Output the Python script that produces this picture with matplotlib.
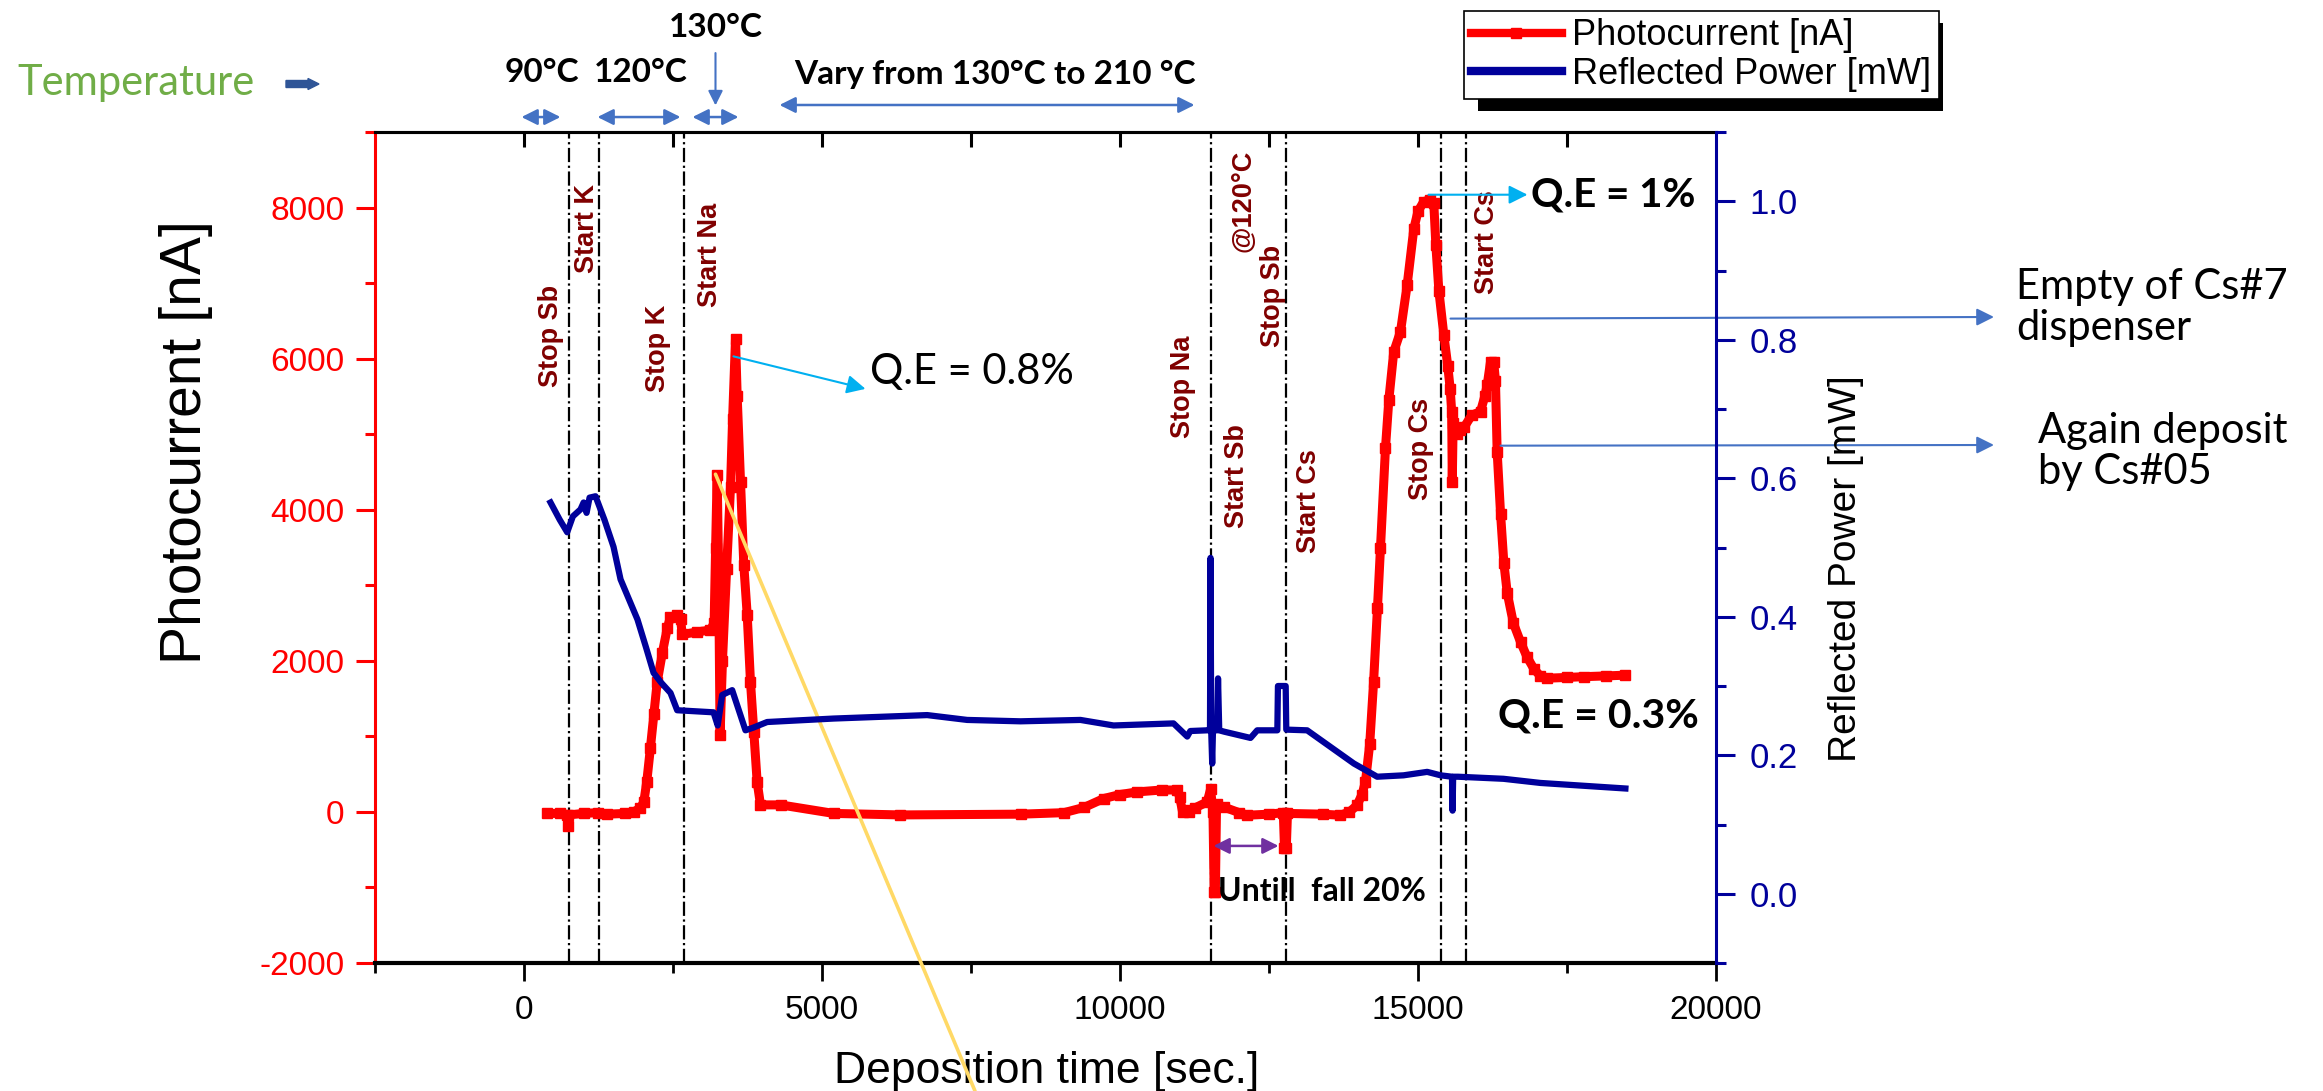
import matplotlib
matplotlib.use("Agg")
import matplotlib.pyplot as plt
from matplotlib.lines import Line2D
from matplotlib.patches import Rectangle
from matplotlib.transforms import IdentityTransform
from matplotlib.ticker import MultipleLocator
import numpy as np

plt.rcParams['font.family'] = ['Liberation Sans', 'DejaVu Sans']

# ---------------- data ----------------
time_pc = [390, 600, 725, 735, 745, 1000, 1240, 1400, 1700, 1840, 1950, 2010, 2060,
           2120, 2180, 2235, 2320, 2403, 2458, 2560, 2626, 2654, 2900, 3129, 3190,
           3215, 3241, 3265, 3290, 3330, 3400, 3465, 3500, 3549, 3577, 3633, 3688,
           3745, 3800, 3856, 3912, 3968, 4304, 5195, 6317, 8331, 9060, 9400, 9727,
           10000, 10288, 10700, 10959, 11000, 11050, 11110, 11160, 11250, 11463,
           11520, 11560, 11580, 11600, 11620, 11737, 12000, 12134, 12500, 12740,
           12760, 12790, 12810, 13400, 13698, 13850, 13977, 14060, 14118, 14190,
           14255, 14320, 14370, 14454, 14510, 14593, 14706, 14818, 14930, 15000,
           15097, 15200, 15265, 15300, 15350, 15433, 15500, 15540, 15565, 15575,
           15590, 15650, 15713, 15780, 15900, 16049, 16120, 16161, 16217, 16270,
           16300, 16328, 16385, 16440, 16497, 16600, 16720, 16830, 16944, 17050,
           17168, 17500, 17782, 18150, 18480]
photocurrent = [-20, -20, -40, -180, -40, -20, -10, -30, -20, 0, 50, 130, 400,
                840, 1300, 1720, 2100, 2430, 2580, 2600, 2560, 2350, 2380, 2410, 2500,
                3500, 4460, 3200, 1020, 2000, 3222, 4300, 5200, 6265, 5500, 4371, 3271,
                2609, 1722, 1060, 397, 93, 93, -20, -40, -30, -10, 60, 177,
                230, 265, 290, 290, 200, 0, 20, 0, 50, 132,
                300, 0, -1060, -1060, 100, 66, -10, -44, -30, -10,
                -480, -480, -20, -30, -44, 0, 88, 230, 397, 900,
                1722, 2700, 3488, 4812, 5450, 6090, 6357, 6975, 7720, 7950,
                8080, 8100, 8057, 7500, 6900, 6316, 5900, 5600, 5300, 4370,
                5150, 5000, 5050, 5100, 5250, 5300, 5500, 5650, 5960, 5960,
                5700, 4770, 3950, 3300, 2900, 2500, 2250, 2050, 1894, 1800,
                1770, 1780, 1790, 1800, 1810]

time_rp = [445, 600, 725, 820, 948, 1000, 1050, 1100, 1200, 1350, 1502, 1620, 1904,
           2050, 2174, 2300, 2458, 2570, 3180, 3250, 3325, 3493, 3716, 3850, 4080,
           5195, 6765, 7436, 8331, 9337, 9892, 10898, 11128, 11180, 11463, 11510,
           11519, 11530, 11547, 11560, 11630, 11645, 11665, 11750, 12190, 12302,
           12640, 12650, 12780, 12790, 13140, 13925, 14315, 14757, 15154, 15380,
           15570, 15580, 15590, 15670, 16434, 17055, 18480]
reflected_power = [0.565, 0.540, 0.522, 0.545, 0.555, 0.565, 0.550, 0.572, 0.574,
                   0.540, 0.501, 0.454, 0.396, 0.355, 0.319, 0.305, 0.290, 0.265,
                   0.262, 0.243, 0.287, 0.294, 0.236, 0.240, 0.248, 0.253, 0.258,
                   0.251, 0.249, 0.251, 0.243, 0.246, 0.227, 0.235, 0.236, 0.236,
                   0.485, 0.236, 0.188, 0.236, 0.236, 0.311, 0.236, 0.234, 0.225,
                   0.236, 0.236, 0.300, 0.300, 0.237, 0.236, 0.188, 0.169, 0.171,
                   0.176, 0.171, 0.169, 0.120, 0.169, 0.169, 0.166, 0.160, 0.152]

event_times = [750, 1250, 2690, 11535, 12790, 15380, 15810]

step_labels = ["Stop Sb", "Start K", "Stop K", "Start Na", "Stop Na", "Start Sb",
               "@120°C", "Stop Sb", "Start Cs", "Stop Cs", "Start Cs"]
# (x centre, bottom y) in data units
step_pos = [(445, 5630), (1065, 7140), (2240, 5560), (3121, 6680), (11050, 4950),
            (11970, 3760), (12075, 7410), (12560, 6160), (13163, 3430),
            (15042, 4130), (16150, 6850)]

temp_labels = ["90°C", "120°C", "130°C", "Vary from 130°C to 210 °C"]

RED = "#FF0000"
BLUE = "#00009B"
DARKRED = "#800000"
ARROW = "#4472C4"
CYAN = "#00B0F0"

fig = plt.figure(figsize=(23.23, 10.91), dpi=100)
ax = fig.add_axes([375 / 2323, 1 - 963 / 1091, 1341 / 2323, 831 / 1091])
ax2 = ax.twinx()

ax.plot(time_pc, photocurrent, color=RED, lw=6.5, marker="s", ms=7.5, zorder=3)
ax2.plot(time_rp, reflected_power, color=BLUE, lw=4.5, zorder=3)

for t in event_times:
    ax.axvline(t, color="black", lw=1.6, ls="-.", zorder=2)

ax.set_xlim(-2500, 20000)
ax.set_ylim(-2000, 9000)
ax2.set_ylim(-0.1, 1.1)

# axes styling
ax.spines["left"].set_color(RED)
ax.spines["left"].set_linewidth(2.2)
ax.spines["right"].set_visible(False)
ax.spines["bottom"].set_linewidth(3)
ax.spines["top"].set_linewidth(2.2)
ax2.spines["left"].set_visible(False)
ax2.spines["right"].set_color(BLUE)
ax2.spines["right"].set_linewidth(2.2)
ax2.spines["top"].set_visible(False)
ax2.spines["bottom"].set_visible(False)

ax.xaxis.set_major_locator(MultipleLocator(5000))
ax.xaxis.set_minor_locator(MultipleLocator(2500))
ax.yaxis.set_major_locator(MultipleLocator(2000))
ax.yaxis.set_minor_locator(MultipleLocator(1000))
ax2.yaxis.set_major_locator(MultipleLocator(0.2))
ax2.yaxis.set_minor_locator(MultipleLocator(0.1))
ax.set_xticks(np.arange(0, 20001, 5000))

ax.tick_params(axis="x", which="major", length=13, width=2, pad=10, labelsize=24)
ax.tick_params(axis="x", which="minor", length=7, width=2)
ax.tick_params(axis="y", which="major", colors=RED, length=14, width=2.2, pad=8,
               labelsize=24)
ax.tick_params(axis="y", which="minor", colors=RED, length=7, width=2.2)
ax2.tick_params(axis="y", which="major", colors=BLUE, length=14, width=2.2, pad=10,
                labelsize=25)
ax2.tick_params(axis="y", which="minor", colors=BLUE, length=7, width=2.2)
ax2.yaxis.set_major_formatter(matplotlib.ticker.FormatStrFormatter("%.1f"))
ax.yaxis.set_major_formatter(matplotlib.ticker.FormatStrFormatter("%d"))

top = ax.secondary_xaxis("top")
top.set_xticks(np.arange(0, 17501, 2500))
top.tick_params(direction="in", length=11, width=2.2, labeltop=False)
top.spines["top"].set_linewidth(2.2)

ax.set_xlabel("Deposition time [sec.]", fontsize=32)
ax.xaxis.label.set_va("center")
ax.xaxis.set_label_coords(0.501, -0.13)
ax.set_ylabel("Photocurrent [nA]", fontsize=41)
ax.yaxis.label.set_va("center")
ax.yaxis.set_label_coords(-0.141, 0.627)
ax2.set_ylabel("Reflected Power [mW]", fontsize=28)
ax2.yaxis.label.set_va("center")
ax2.yaxis.set_label_coords(1.097, 0.474)

# step labels
for lab, (x, y) in zip(step_labels, step_pos):
    ax.text(x, y, lab, rotation=90, ha="center", va="bottom", color=DARKRED,
            fontsize=19.5, fontweight="bold", zorder=4)

# temperature bar above the plot
calibri = ["Lato", "DejaVu Sans"]
fig.text(17 / 2323, 1 - 95 / 1091, "Temperature", color="#70AD47", fontsize=30,
         family=calibri, va="baseline", ha="left")
fig.add_artist(matplotlib.patches.FancyArrow(286 / 2323, 1 - 84 / 1091, 22 / 2323, 0,
                                             width=7 / 1091, head_width=11 / 1091,
                                             head_length=11 / 2323,
                                             length_includes_head=False,
                                             color="#2F5597",
                                             transform=fig.transFigure))

tx = ("data", "axes fraction")
spans = [(-42, 612, 1.018), (1233, 2626, 1.018), (2827, 3599, 1.018),
         (4287, 11250, 1.0325)]
for x0, x1, yy in spans:
    ax.annotate("", xy=(x1, yy), xytext=(x0, yy), xycoords=tx, textcoords=tx,
                arrowprops=dict(arrowstyle="<|-|>", color=ARROW, lw=1.8,
                                mutation_scale=24, shrinkA=0, shrinkB=0),
                annotation_clip=False)
ax.annotate("", xy=(3213, 1.032), xytext=(3213, 1.095), xycoords=tx, textcoords=tx,
            arrowprops=dict(arrowstyle="-|>", color=ARROW, lw=1.5, mutation_scale=22,
                            shrinkA=0, shrinkB=0), annotation_clip=False)
temp_pos = [(294, 1.071), (1955, 1.071), (3213, 1.126), (7911, 1.069)]
for lab, (x, yy) in zip(temp_labels, temp_pos):
    ax.text(x, yy, lab, transform=ax.get_xaxis_transform(), ha="center", va="center",
            fontsize=24, fontweight="bold", family=calibri)

# Q.E notes
ax.annotate("", xy=(5730, 5600), xytext=(3515, 6030),
            arrowprops=dict(arrowstyle="-|>", color=CYAN, lw=1.5, mutation_scale=28,
                            shrinkA=0, shrinkB=0), zorder=5)
ax.text(5800, 5820, "Q.E = 0.8%", fontsize=30, family=calibri, ha="left", va="center")
ax.annotate("", xy=(16837, 8170), xytext=(15176, 8170),
            arrowprops=dict(arrowstyle="-|>", color=CYAN, lw=1.5, mutation_scale=28,
                            shrinkA=0, shrinkB=0), zorder=5)
ax.text(16900, 8170, "Q.E = 1%", fontsize=29, fontweight="bold", family=calibri,
        ha="left", va="center", zorder=6)
ax.text(16350, 1270, "Q.E = 0.3%", fontsize=29.5, fontweight="bold", family=calibri,
        ha="left", va="center", zorder=6)

ax.annotate("", xy=(12660, -450), xytext=(11569, -450),
            arrowprops=dict(arrowstyle="<|-|>", color="#7030A0", lw=1.8,
                            mutation_scale=24, shrinkA=0, shrinkB=0), zorder=5)
ax.text(11640, -1050, "Untill  fall 20%", fontsize=23, fontweight="bold",
        family=calibri, ha="left", va="center", zorder=6)

# yellow guide line running off the bottom
ax.annotate("", xy=(3213, 4470), xytext=(975 / 2323, 0), textcoords="figure fraction",
            arrowprops=dict(arrowstyle="-", color="#FFD966", lw=2.6, shrinkA=0,
                            shrinkB=0), annotation_clip=False, zorder=5)

# notes on the right
ax.annotate("", xy=(1994 / 2323, 1 - 317 / 1091), xytext=(15545, 6530),
            xycoords="figure fraction", textcoords="data",
            arrowprops=dict(arrowstyle="-|>", color=ARROW, lw=1.5, mutation_scale=26,
                            shrinkA=0, shrinkB=0), annotation_clip=False, zorder=5)
ax.annotate("", xy=(1994 / 2323, 1 - 445 / 1091), xytext=(16384, 4848),
            xycoords="figure fraction", textcoords="data",
            arrowprops=dict(arrowstyle="-|>", color=ARROW, lw=1.5, mutation_scale=26,
                            shrinkA=0, shrinkB=0), annotation_clip=False, zorder=5)
fig.text(2016 / 2323, 1 - 268 / 1091, "Empty of Cs#7\ndispenser", fontsize=30,
         family=calibri, ha="left", va="top", linespacing=1.1)
fig.text(2038 / 2323, 1 - 412 / 1091, "Again deposit\nby Cs#05", fontsize=30,
         family=calibri, ha="left", va="top", linespacing=1.1)

# legend with a solid black drop shadow
handles = [Line2D([], [], color=RED, lw=6, marker="s", ms=7),
           Line2D([], [], color=BLUE, lw=6)]
leg = ax2.legend(handles, ["Photocurrent [nA]", "Reflected Power [mW]"],
                 loc="upper left", bbox_to_anchor=(1464 / 2323, 1 - 11 / 1091),
                 bbox_transform=fig.transFigure, fontsize=26, frameon=True,
                 fancybox=False, edgecolor="black", framealpha=1, handlelength=2.5,
                 borderpad=0.2, labelspacing=0.1, handletextpad=0.3, borderaxespad=0)
leg.get_frame().set_linewidth(1.2)
fig.canvas.draw()
bb = leg.get_window_extent()
fig.add_artist(Rectangle((bb.x0 + 14, bb.y0 - 12), bb.width - 10, bb.height,
                         facecolor="black", edgecolor="none",
                         transform=IdentityTransform(), zorder=-1))

fig.savefig("out.png", dpi=100)
